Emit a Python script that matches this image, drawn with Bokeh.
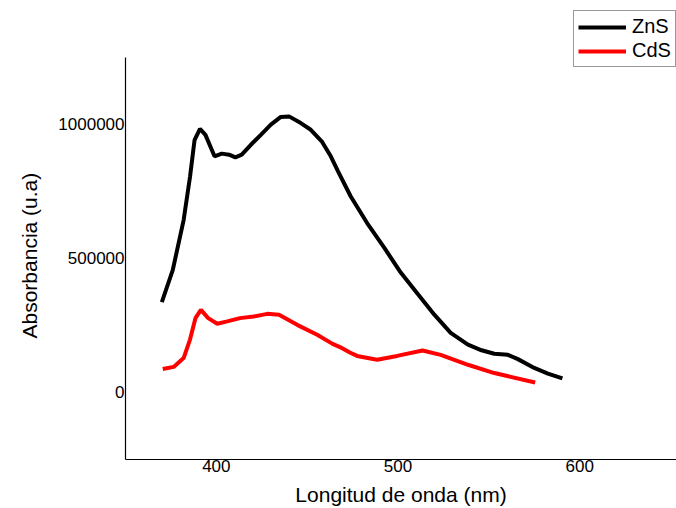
from bokeh.plotting import figure
from bokeh.models import Range1d, FixedTicker, BasicTickFormatter, Legend, LegendItem, Title
from bokeh.embed import file_html
from bokeh.resources import INLINE

# ---- data ----
zns_x = [370, 376, 382, 385.5, 388, 391, 394, 399, 403, 407, 410.5, 414, 419, 424.5,
         430, 435.5, 440, 446.5, 452, 458, 463, 467, 474, 483, 492.5, 501.5, 511,
         520, 529, 538.5, 546, 553, 560.5, 566, 575, 582.5, 590.5]
zns_y = [336000, 455000, 642000, 803000, 940000, 982000, 960000, 880000, 890000,
         886000, 876000, 886000, 923000, 960000, 998000, 1027000, 1029000, 1004000,
         979000, 936000, 880000, 824000, 730000, 631000, 538000, 446000, 365000,
         289000, 221000, 177000, 156000, 143000, 139000, 123000, 90000, 69000, 51000]

cds_x = [370.5, 376.5, 382, 385.5, 388.5, 391.5, 395.5, 400.5, 406, 413, 420.5, 428,
         434.5, 444.5, 455.5, 464, 469, 473.5, 477.5, 488.5, 499.5, 513.5, 523.5,
         538.5, 553, 575.5]
cds_y = [86000, 94000, 127000, 196000, 276000, 307000, 276000, 255000, 264000,
         276000, 282000, 292000, 289000, 251000, 214000, 180000, 165000, 148000,
         135000, 121000, 135000, 155000, 139000, 102000, 71000, 36000]

x_ticks = [400, 500, 600]
y_ticks = [0, 500000, 1000000]
y_axis_bounds = (-251600, 1249700)
series_names = ["ZnS", "CdS"]
x_label = "Longitud de onda (nm)"
y_label = "Absorbancia (u.a)"

FONT = "Liberation Sans"

p = figure(width=676, height=508, output_backend="svg", toolbar_location=None,
           x_range=Range1d(350, 653.3), y_range=Range1d(-251600, 1461500),
           min_border_left=125, min_border_right=0, min_border_top=0,
           min_border_bottom=47)
p.outline_line_color = None
p.xgrid.visible = False
p.ygrid.visible = False
p.background_fill_color = "white"
p.border_fill_color = "white"

r1 = p.line(zns_x, zns_y, line_color="black", line_width=4)
r2 = p.line(cds_x, cds_y, line_color="#ff0000", line_width=4)

for ax in (p.xaxis[0], p.yaxis[0]):
    ax.major_tick_line_color = None
    ax.minor_tick_line_color = None
    ax.major_tick_out = 0
    ax.major_tick_in = 0
    ax.axis_line_color = "black"
    ax.axis_line_width = 1.2
    ax.major_label_text_font = FONT
    ax.major_label_text_font_size = "17px"
    ax.major_label_text_color = "black"
    ax.axis_label_text_font = FONT
    ax.axis_label_text_font_size = "21px"
    ax.axis_label_text_font_style = "normal"
    ax.axis_label_text_color = "black"

p.yaxis.bounds = y_axis_bounds
p.xaxis.ticker = FixedTicker(ticks=x_ticks)
p.yaxis.ticker = FixedTicker(ticks=y_ticks)
p.yaxis.formatter = BasicTickFormatter(use_scientific=False)
p.xaxis.axis_label = x_label
p.xaxis.major_label_standoff = 0
p.yaxis.major_label_standoff = 1
p.xaxis.axis_label_standoff = 8
p.xaxis.axis_label_text_line_height = 0.6

ytitle = Title(text=y_label, align="left", offset=121, standoff=30,
               text_font=FONT, text_font_size="21px", text_font_style="normal",
               text_color="black")
p.add_layout(ytitle, "left")

legend = Legend(items=[LegendItem(label=series_names[0], renderers=[r1]),
                       LegendItem(label=series_names[1], renderers=[r2])],
                location=(448, 392))
legend.label_text_font = FONT
legend.label_text_font_size = "20px"
legend.label_text_color = "black"
legend.label_text_line_height = 1.0
legend.glyph_width = 48
legend.glyph_height = 20
legend.label_height = 20
legend.label_standoff = 6
legend.spacing = 1
legend.padding = 4
legend.margin = 0
legend.border_line_color = "#333333"
legend.border_line_width = 1
legend.background_fill_color = "white"
legend.background_fill_alpha = 1
p.add_layout(legend, "center")

open("out.html", "w").write(file_html(p, INLINE))
